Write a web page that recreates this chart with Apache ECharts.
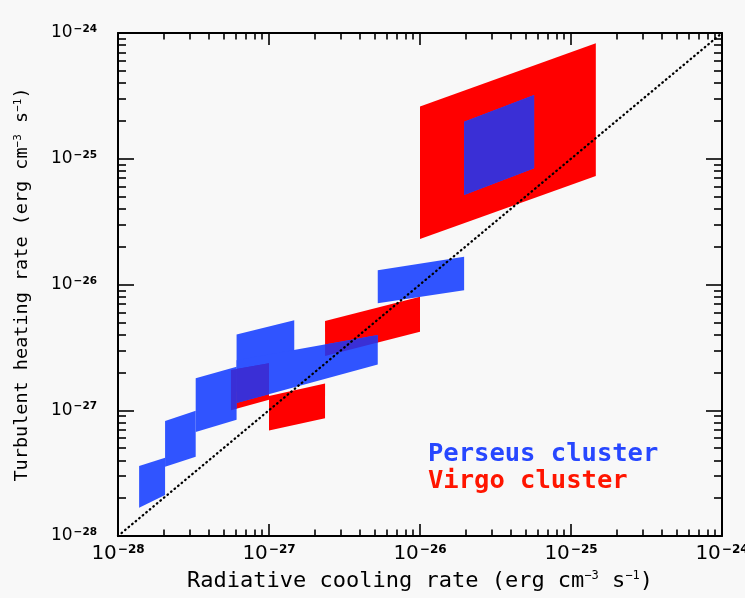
<!DOCTYPE html>
<html><head><meta charset="utf-8">
<script src="https://cdn.jsdelivr.net/npm/echarts@6/dist/echarts.min.js"></script>
<style>html,body{margin:0;padding:0;background:#f8f8f8}#c{width:745px;height:598px}</style>
</head><body><div id="c"></div>
<script>
// Axis decades (exponents of 10) and minor tick multipliers
const decadeExponents = [-28, -27, -26, -25, -24];
const minorMultipliers = [2, 3, 4, 5, 6, 7, 8, 9];

// Perseus cluster regions (erg cm^-3 s^-1): x = radiative cooling, y = turbulent heating
const perseusXLeft       = [1.38e-28, 2.05e-28, 3.27e-28, 6.1e-28, 6.1e-28, 5.25e-27, 1.96e-26];
const perseusXRight      = [2.05e-28, 3.27e-28, 6.1e-28, 1.47e-27, 5.25e-27, 1.96e-26, 5.7e-26];
const perseusTopLeft     = [3.6e-28, 8.2e-28, 1.8e-27, 4.0e-27, 2.5e-27, 1.3e-26, 1.97e-25];
const perseusBottomLeft  = [1.68e-28, 3.56e-28, 6.7e-28, 1.41e-27, 1.14e-27, 7.1e-27, 5.15e-26];
const perseusTopRight    = [4.2e-28, 9.9e-28, 2.22e-27, 5.2e-27, 3.96e-27, 1.66e-26, 3.21e-25];
const perseusBottomRight = [2.12e-28, 4.27e-28, 8.4e-28, 1.82e-27, 2.31e-27, 9.0e-27, 8.4e-26];

// Virgo cluster regions
const virgoXLeft       = [5.6e-28, 1.0e-27, 2.35e-27, 1.0e-26];
const virgoXRight      = [1.0e-27, 2.35e-27, 1.0e-26, 1.46e-25];
const virgoTopLeft     = [2.09e-27, 1.3e-27, 5.13e-27, 2.6e-25];
const virgoBottomLeft  = [1.0e-27, 6.9e-28, 2.7e-27, 2.3e-26];
const virgoTopRight    = [2.36e-27, 1.63e-27, 8.0e-27, 8.3e-25];
const virgoBottomRight = [1.21e-27, 8.65e-28, 4.21e-27, 7.3e-26];

const seriesNames = ['Perseus cluster', 'Virgo cluster'];

// ---------- build ----------
const L = Math.log10;
function quads(xl, xr, tl, bl, tr, br) {
  return xl.map((_, i) => [
    [L(xl[i]), L(tl[i])], [L(xr[i]), L(tr[i])],
    [L(xr[i]), L(br[i])], [L(xl[i]), L(bl[i])]
  ]);
}
const perseusPolys = quads(perseusXLeft, perseusXRight, perseusTopLeft, perseusBottomLeft, perseusTopRight, perseusBottomRight);
const virgoPolys = quads(virgoXLeft, virgoXRight, virgoTopLeft, virgoBottomLeft, virgoTopRight, virgoBottomRight);

function clipPolygon(subject, clipper) {
  let area = 0;
  for (let i = 0; i < clipper.length; i++) {
    const p = clipper[i], q = clipper[(i + 1) % clipper.length];
    area += p[0] * q[1] - q[0] * p[1];
  }
  const sign = area > 0 ? 1 : -1;
  let output = subject;
  for (let i = 0; i < clipper.length && output.length; i++) {
    const a = clipper[i], b = clipper[(i + 1) % clipper.length];
    const input = output; output = [];
    const inside = p => sign * ((b[0] - a[0]) * (p[1] - a[1]) - (b[1] - a[1]) * (p[0] - a[0])) >= 0;
    const inter = (p, q) => {
      const a1 = b[1] - a[1], b1 = a[0] - b[0], c1 = a1 * a[0] + b1 * a[1];
      const a2 = q[1] - p[1], b2 = p[0] - q[0], c2 = a2 * p[0] + b2 * p[1];
      const det = a1 * b2 - a2 * b1;
      return [(b2 * c1 - b1 * c2) / det, (a1 * c2 - a2 * c1) / det];
    };
    for (let j = 0; j < input.length; j++) {
      const cur = input[j], prev = input[(j + input.length - 1) % input.length];
      const ci = inside(cur), pi = inside(prev);
      if (ci) { if (!pi) output.push(inter(prev, cur)); output.push(cur); }
      else if (pi) output.push(inter(prev, cur));
    }
  }
  return output;
}
const overlapPolys = [];
perseusPolys.forEach(p => virgoPolys.forEach(v => {
  const c = clipPolygon(p, v);
  if (c.length >= 3) overlapPolys.push(c);
}));

const centroid = poly => [poly.reduce((s, p) => s + p[0], 0) / poly.length, poly.reduce((s, p) => s + p[1], 0) / poly.length];

function polySeries(name, polys, color) {
  return {
    type: 'custom', name: name, xAxisIndex: 0, yAxisIndex: 0,
    itemStyle: { color: color },
    data: polys.map(centroid),
    renderItem: (params, api) => ({
      type: 'polygon',
      shape: { points: polys[params.dataIndex].map(p => api.coord(p)) },
      style: { fill: color, stroke: null }
    }),
    silent: true, animation: false
  };
}

const FONT = 'DejaVu Sans';
const MONO = 'DejaVu Sans Mono';
const minorValues = [];
decadeExponents.slice(0, -1).forEach(e => minorMultipliers.forEach(m => minorValues.push(e + L(m))));
const xMin = decadeExponents[0], xMax = decadeExponents[decadeExponents.length - 1];

function axis(pos, isX, major, labels, tickLen) {
  const a = {
    type: 'value', position: pos, min: xMin, max: xMax, interval: 1,
    splitLine: { show: false },
    axisLine: { show: major, lineStyle: { color: '#000', width: 2 } },
    axisTick: { show: true, inside: true, length: tickLen, lineStyle: { color: '#000', width: 1.6 } },
    axisLabel: { show: false }
  };
  if (!major) a.axisTick.customValues = minorValues;
  if (labels) {
    a.axisLabel = {
      show: true, margin: isX ? 8 : 21, hideOverlap: false,
      formatter: v => '{b|10}{s|−' + Math.abs(Math.round(v)) + '}',
      rich: {
        b: { fontFamily: FONT, fontSize: isX ? 20 : 17, color: '#000' },
        s: { fontFamily: FONT, fontSize: isX ? 12 : 10.5, fontWeight: 'bold', color: '#000', padding: [0, 0, isX ? 8 : 7, 1] }
      }
    };
  }
  return a;
}

const xAxes = [axis('bottom', true, true, true, 12), axis('top', true, true, false, 12),
               axis('bottom', true, false, false, 6.5), axis('top', true, false, false, 6.5)];
const yAxes = [axis('left', false, true, true, 16), axis('right', false, true, false, 16),
               axis('left', false, false, false, 8), axis('right', false, false, false, 8)];

xAxes[0].name = 'Radiative cooling rate (erg cm{s|−3} s{s|−1})';
xAxes[0].nameLocation = 'middle';
xAxes[0].nameGap = 34;
xAxes[0].nameTextStyle = { fontFamily: MONO, fontSize: 22, color: '#000',
  rich: { s: { fontFamily: MONO, fontSize: 12, color: '#000', padding: [0, 0, 10, 0] } } };
yAxes[0].name = 'Turbulent heating rate (erg cm{s|−3} s{s|−1})';
yAxes[0].nameLocation = 'middle';
yAxes[0].nameGap = 86;
yAxes[0].nameTextStyle = { fontFamily: MONO, fontSize: 18.5, color: '#000',
  rich: { s: { fontFamily: MONO, fontSize: 11, color: '#000', padding: [0, 0, 8, 0] } } };

const chart = echarts.init(document.getElementById('c'), null, { renderer: 'canvas' });
chart.setOption({
  backgroundColor: '#f8f8f8',
  animation: false,
  grid: { left: 118, right: 23, top: 33, bottom: 62, containLabel: false, outerBoundsMode: 'none' },
  xAxis: xAxes,
  yAxis: yAxes,
  legend: {
    orient: 'vertical', left: 418, top: 436, itemGap: 0, itemWidth: 0, itemHeight: 0,
    icon: 'none', selectedMode: false,
    textStyle: { fontFamily: MONO, fontSize: 25.5, fontWeight: 'bold', lineHeight: 27 },
    data: [
      { name: seriesNames[0], textStyle: { color: '#2747ff' } },
      { name: seriesNames[1], textStyle: { color: '#ff1500' } }
    ]
  },
  series: [
    polySeries(seriesNames[1], virgoPolys, '#ff0000'),
    polySeries(seriesNames[0], perseusPolys, '#3054ff'),
    polySeries('overlap', overlapPolys, '#3a2fd6'),
    {
      type: 'line', name: 'equality', xAxisIndex: 0, yAxisIndex: 0,
      data: [[xMin, xMin], [xMax, xMax]], showSymbol: false, silent: true,
      lineStyle: { color: '#000', width: 2.3, type: [0.6, 4], cap: 'round' }
    }
  ]
});
</script></body></html>
